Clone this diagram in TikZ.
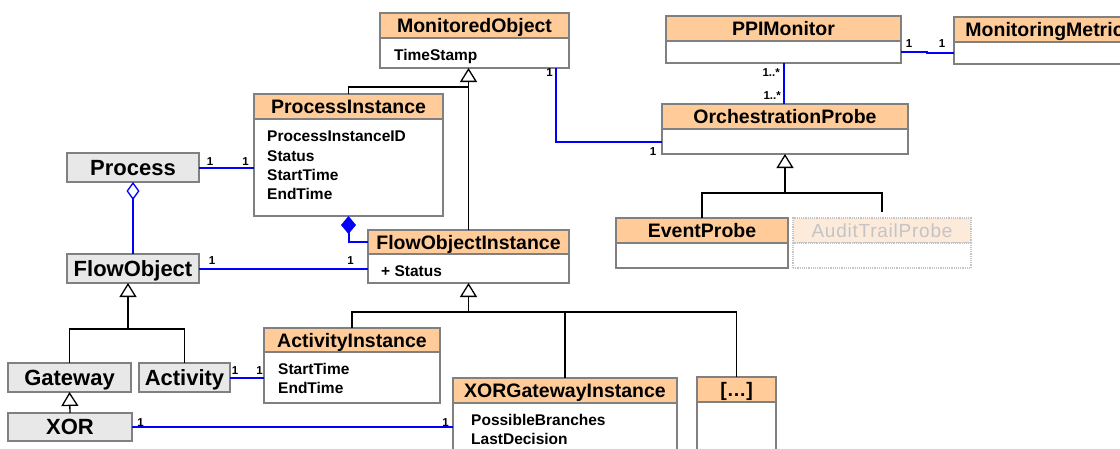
\documentclass[tikz,border=0pt]{standalone}
\usepackage{fontspec}
\setmainfont{Liberation Sans}
\usetikzlibrary{arrows.meta,calc}
\definecolor{hdrorange}{HTML}{FFCC99}
\definecolor{bordergray}{HTML}{808080}
\definecolor{boxgray}{HTML}{E8E8E8}
\definecolor{assocblue}{HTML}{0000FF}
\definecolor{fadeorange}{HTML}{FCEADB}
\definecolor{fadegray}{HTML}{C4C4C4}
\tikzset{
  hdrbox/.style={draw=bordergray, fill=hdrorange, line width=1.5pt, inner sep=0pt, outer sep=0pt,
    font=\bfseries\fontsize{19.5}{21}\selectfont, text height=14pt, text depth=0pt},
  bodybox/.style={draw=bordergray, fill=white, line width=1.5pt, inner sep=0pt, outer sep=0pt},
  fadehdr/.style={draw=fadegray, densely dotted, fill=fadeorange, line width=1.2pt, inner sep=0pt, outer sep=0pt,
    text=fadegray, font=\addfontfeatures{LetterSpace=4}\fontsize{19}{21}\selectfont, text height=13.6pt, text depth=0pt},
  fadebody/.style={draw=fadegray, densely dotted, fill=white, line width=1.2pt, inner sep=0pt, outer sep=0pt},
  graybox/.style={draw=bordergray, fill=boxgray, line width=1.5pt, inner sep=0pt, outer sep=0pt, anchor=north west,
    font=\bfseries\fontsize{22}{24}\selectfont, text height=15.8pt, text depth=0pt},
  attr/.style={anchor=west, inner sep=0pt, font=\bfseries\fontsize{15.5}{17}\selectfont, text height=11.1pt, text depth=0pt},
  mult/.style={inner sep=0pt, font=\bfseries\fontsize{11.5}{13}\selectfont, text height=8.2pt, text depth=0pt},
  assoc/.style={draw=assocblue, line width=2pt},
  inhline/.style={draw=black, line width=1.3pt},
  inh/.style={inhline, -{Triangle[open, fill=white, length=14pt, width=17pt, line width=1.3pt]}},
}
\newcommand{\umlcls}[8]{%
  \node[#8hdr, anchor=north west, minimum width={(#4-#2)*1pt}, minimum height={(#5-#3)*1pt}] (#1-h) at (#2,#3) {#7};
  \node[#8body, anchor=north west, minimum width={(#4-#2)*1pt}, minimum height={(#6-#5)*1pt}] (#1-b) at (#2,#5) {};
}
\tikzset{uhdr/.style={hdrbox}, ubody/.style={bodybox}, fhdr/.style={fadehdr}, fbody/.style={fadebody}}
\begin{document}
\begin{tikzpicture}[x=1pt, y=-1pt]
\useasboundingbox[fill=white] (0,0) rectangle (1120,448);
\begin{scope}
\clip (0,0) rectangle (1120,448);
% classes
\umlcls{mo}{380}{13}{569}{38}{68}{MonitoredObject}{u}
\umlcls{pi}{254}{94}{443}{119}{216}{ProcessInstance}{u}
\umlcls{foi}{368}{230}{569}{254}{283}{FlowObjectInstance}{u}
\umlcls{ai}{264}{328}{440}{352}{403}{ActivityInstance}{u}
\umlcls{xgi}{453}{378}{677}{403}{470}{XORGatewayInstance}{u}
\umlcls{dots}{697}{377}{776}{402}{470}{[\dots]}{u}
\umlcls{ppi}{666}{16}{901}{41}{63}{PPIMonitor}{u}
\umlcls{mm}{954}{17}{1135}{42}{64}{MonitoringMetric}{u}
\umlcls{op}{662}{104}{908}{129}{154}{OrchestrationProbe}{u}
\umlcls{ep}{616}{218}{788}{243}{268}{EventProbe}{u}
\umlcls{atp}{793}{218}{971}{243}{268}{AuditTrailProbe}{f}
% gray boxes
\node[graybox, minimum width=132pt, minimum height=29pt] (pr) at (67,153) {Process};
\node[graybox, minimum width=132pt, minimum height=29pt] (fo) at (67,254) {FlowObject};
\node[graybox, minimum width=123pt, minimum height=29pt] (gw) at (8,363) {Gateway};
\node[graybox, minimum width=91pt, minimum height=29pt] (act) at (139,363) {Activity};
\node[graybox, minimum width=124pt, minimum height=28pt] (xor) at (8,413) {XOR};
% attributes
\node[attr] (mo-a1) at (394,54.5) {TimeStamp};
\node[attr] (pi-a1) at (267,136) {ProcessInstanceID};
\node[attr] (pi-a2) at (267,156) {Status};
\node[attr] (pi-a3) at (267,175) {StartTime};
\node[attr] (pi-a4) at (267,193.5) {EndTime};
\node[attr] (foi-a1) at (381,270.5) {+ Status};
\node[attr] (ai-a1) at (278,368.5) {StartTime};
\node[attr] (ai-a2) at (278,387.5) {EndTime};
\node[attr] (xgi-a1) at (471,419.5) {PossibleBranches};
\node[attr] (xgi-a2) at (471,438.5) {LastDecision};
% associations
\draw[assoc] ($(mo-b.south east)+(-13,0)$) |- (op-b.west);
\draw[assoc] (ppi-b.east) -- ++(26,0) |- (mm-b.west);
\draw[assoc] (ppi-b.south) -- (ppi-b.south |- op-h.north);
\draw[assoc] (pr.east) -- (pr.east -| pi-b.west);
\draw[assoc] (fo.east) -- (fo.east -| foi-b.west);
\draw[assoc] (act.east) -- (act.east -| ai-b.west);
\draw[assoc] (xor.east) -- (xor.east -| xgi-b.west);
\draw[assoc, -{Diamond[open, fill=white, length=18pt, width=13pt, line width=1.3pt]}] (fo.north) -- (pr.south);
\draw[assoc, -{Diamond[fill=assocblue, length=18pt, width=15pt]}] (foi-h.west) -| (pi-b.south);
% generalizations
\coordinate (mobar) at (468.5,87);
\draw[inh] (foi-h.north) -- (foi-h.north |- mo-b.south);
\draw[inhline] (pi-h.north) |- (mobar);
\coordinate (opbar) at (785,193);
\draw[inh] (ep-h.north) |- (opbar) -- (opbar |- op-b.south);
\draw[inhline] ($(atp-h.north)+(0,-6)$) |- (opbar);
\coordinate (foibar) at (468.5,312);
\draw[inh] (ai-h.north) |- (foibar) -- (foibar |- foi-b.south);
\draw[inhline] (xgi-h.north) |- (foibar);
\draw[inhline] (dots-h.north) |- (foibar);
\coordinate (fobar) at (128,329);
\draw[inh] (gw.north) |- (fobar) -- (fobar |- fo.south);
\draw[inhline] (act.north) |- (fobar);
\draw[inh] (xor.north) -- (gw.south);
% multiplicities
\node[mult] (m1) at (549.5,72) {1};
\node[mult] (m2) at (653,151) {1};
\node[mult] (m3) at (909,43.5) {1};
\node[mult] (m4) at (942,43.5) {1};
\node[mult, anchor=east] (m5) at (780,72) {1..*};
\node[mult, anchor=east] (m6) at (781,95) {1..*};
\node[mult] (m7) at (210,161) {1};
\node[mult] (m8) at (245.5,161) {1};
\node[mult] (m9) at (212,260.5) {1};
\node[mult] (m10) at (350.5,260.5) {1};
\node[mult] (m11) at (235,370) {1};
\node[mult] (m12) at (259.5,370) {1};
\node[mult] (m13) at (140.5,422.5) {1};
\node[mult] (m14) at (445.5,422.5) {1};
\end{scope}
\end{tikzpicture}
\end{document}
